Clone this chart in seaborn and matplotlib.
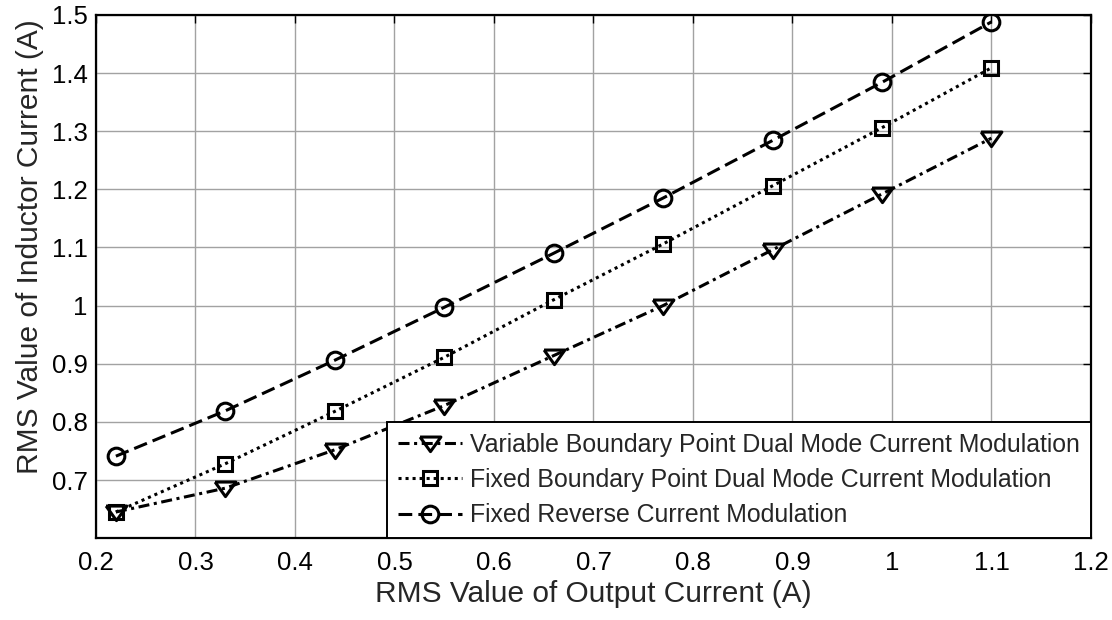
import matplotlib
matplotlib.use("Agg")
import matplotlib.pyplot as plt
import seaborn as sns
import pandas as pd

# RMS output current (A)
output_current = [0.22, 0.33, 0.44, 0.55, 0.66, 0.77, 0.88, 0.99, 1.1]

# RMS inductor current (A) for each modulation scheme
variable_boundary = [0.645, 0.686, 0.752, 0.828, 0.914, 1.0, 1.096, 1.192, 1.288]
fixed_boundary = [0.645, 0.728, 0.818, 0.911, 1.01, 1.106, 1.206, 1.306, 1.409]
fixed_reverse = [0.741, 0.819, 0.906, 0.997, 1.09, 1.185, 1.284, 1.384, 1.488]

series_names = [
    "Variable Boundary Point Dual Mode Current Modulation",
    "Fixed Boundary Point Dual Mode Current Modulation",
    "Fixed Reverse Current Modulation",
]

x_ticks = [0.2, 0.3, 0.4, 0.5, 0.6, 0.7, 0.8, 0.9, 1, 1.1, 1.2]
y_ticks = [0.7, 0.8, 0.9, 1, 1.1, 1.2, 1.3, 1.4, 1.5]

sns.set_theme(style="white")
plt.rcParams["font.family"] = ["Liberation Sans", "DejaVu Sans"]

fig = plt.figure(figsize=(11.12, 6.2), dpi=100)
ax = fig.add_axes([0.0863, 0.132, 0.8948, 0.844])

# wide, flat downward triangle
tri_down = [(-1.0, 0.62), (1.0, 0.62), (0.0, -0.78), (-1.0, 0.62)]

styles = [
    dict(linestyle=(0, (3.6, 1.5, 1.0, 1.5)), marker=tri_down, ms=15),
    dict(linestyle=(0, (1.0, 1.3)), marker="s", ms=10),
    dict(linestyle=(0, (4.5, 2.0)), marker="o", ms=12),
]
values = [variable_boundary, fixed_boundary, fixed_reverse]

for name, vals, st in zip(series_names, values, styles):
    df = pd.DataFrame({"x": output_current, "y": vals})
    sns.lineplot(
        data=df, x="x", y="y", ax=ax, color="black", linewidth=2.2,
        linestyle=st["linestyle"], marker=st["marker"], markersize=st["ms"],
        markerfacecolor="none", markeredgecolor="black", markeredgewidth=2.2,
        label=name,
    )

ax.set_xlim(0.2, 1.2)
ax.set_ylim(0.6, 1.5)
ax.set_xticks(x_ticks)
ax.set_xticklabels([f"{t:g}" for t in x_ticks])
ax.set_yticks(y_ticks)
ax.set_yticklabels([f"{t:g}" for t in y_ticks])
ax.grid(True, color="#a2a2a2", linewidth=1, linestyle="-")
ax.set_axisbelow(True)
for sp in ax.spines.values():
    sp.set_color("black")
    sp.set_linewidth(1.6)
ax.tick_params(direction="in", length=6, width=1, colors="black",
               top=True, right=True, labelsize=18.5)
ax.tick_params(axis="x", pad=9)
ax.tick_params(axis="y", pad=6)

ax.set_xlabel("RMS Value of Output Current (A)", fontsize=21.5, labelpad=4)
ax.set_ylabel("RMS Value of Inductor Current (A)", fontsize=21.5)
ax.yaxis.set_label_coords(-0.052, 0.558)

leg = ax.legend(loc="lower right", fontsize=17.9, frameon=True, fancybox=False,
                borderaxespad=0.0, handlelength=2.57, handletextpad=0.32,
                labelspacing=0.45, borderpad=0.44)
leg.get_frame().set_edgecolor("black")
leg.get_frame().set_linewidth(1.4)
leg.get_frame().set_alpha(1)

fig.savefig("out.png", dpi=100)
